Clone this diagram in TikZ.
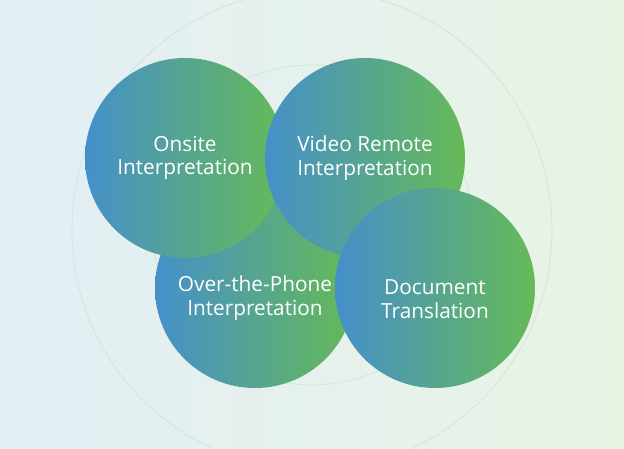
\documentclass[tikz,border=0pt]{standalone}
\usepackage{fontspec}
\setmainfont{Open Sans}
\usetikzlibrary{positioning}
\usepackage{xcolor}

\begin{document}
\begin{tikzpicture}[x=1pt, y=-1pt,
    service/.style={circle, minimum size=200pt, inner sep=0pt,
      left color=bubbleblue, right color=bubblegreen},
    servicetext/.style={align=center, text=white, inner sep=0pt,
      font=\fontsize{20.8}{23.5}\selectfont}]
    % Define colors
    \definecolor{bgleft}{RGB}{227, 238, 245}
    \definecolor{bgright}{RGB}{232, 244, 228}
    \definecolor{ringcolor}{RGB}{206, 232, 217}
    \definecolor{bubbleblue}{RGB}{69, 144, 202}
    \definecolor{bubblegreen}{RGB}{102, 186, 86}

    % Background
    \fill[left color=bgleft, right color=bgright] (0,0) rectangle (624,449);
    \useasboundingbox (0,0) rectangle (624,449);

    % Faint rings
    \draw[ringcolor, line width=0.8pt] (312,230) circle[radius=240pt];
    \draw[ringcolor, line width=0.8pt] (312,225) circle[radius=160pt];

    % Service bubbles
    \node[service] (phone) at (255,288) {};
    \node[servicetext] (phonetext) at ([yshift=-10pt]phone.center) {Over-the-Phone\\Interpretation};
    \node[service] (onsite) at (185,158) {};
    \node[servicetext] (onsitetext) at (onsite.center) {Onsite\\Interpretation};
    \node[service] (video) at (365,158) {};
    \node[servicetext] (videotext) at (video.center) {Video Remote\\Interpretation};
    \node[service] (document) at (435,288) {};
    \node[servicetext] (documenttext) at ([yshift=-11pt]document.center) {Document\\Translation};

\end{tikzpicture}
\end{document}
